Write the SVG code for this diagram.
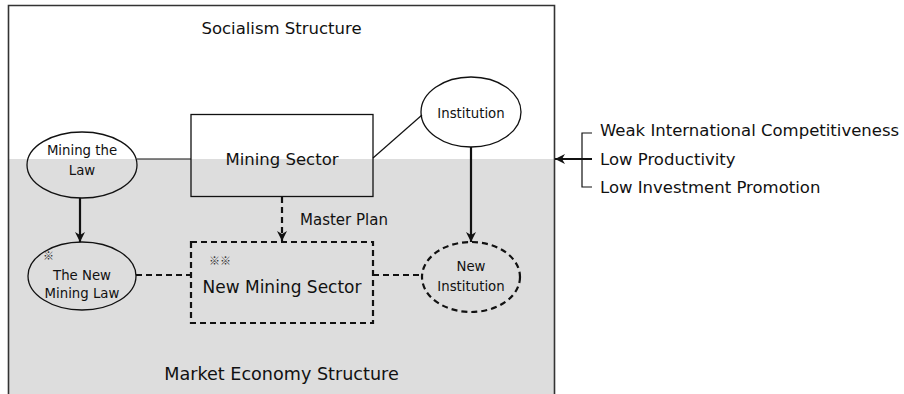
<svg xmlns="http://www.w3.org/2000/svg" width="904" height="394" viewBox="0 0 904 394">
  <style>
    text { font-family: "DejaVu Sans", "Noto Sans CJK JP", sans-serif; fill: #111; }
    .mid { text-anchor: middle; }
    .big { font-size: 16.5px; }
    .small { font-size: 13.3px; }
    .note { font-size: 11px; fill: #333; font-family: "Noto Sans CJK JP", sans-serif; }
    .side { font-size: 16.5px; }
    .shape { fill: none; stroke: #111; stroke-width: 1.3; }
    .dash { fill: none; stroke: #111; stroke-width: 2.2; stroke-dasharray: 6 4; }
    .thin { fill: none; stroke: #111; stroke-width: 1.2; }
    .arrow { fill: none; stroke: #111; stroke-width: 2.2; marker-end: url(#head); }
    .darrow { fill: none; stroke: #111; stroke-width: 2.2; stroke-dasharray: 6 4; marker-end: url(#head); }
  </style>
  <defs>
    <marker id="head" markerWidth="12" markerHeight="12" refX="10" refY="6" orient="auto" markerUnits="userSpaceOnUse">
      <path d="M0,1 L10,6 L0,11 L3,6 z" fill="#111"/>
    </marker>
  </defs>

  <!-- background and structure frame -->
  <rect x="0" y="0" width="904" height="394" fill="#fff"/>
  <rect x="9" y="159" width="545" height="235" fill="#dddddd"/>
  <path d="M8.5,394 V5.5 H554.5 V394" fill="none" stroke="#333" stroke-width="1.6"/>
  <text class="big mid" x="281.5" y="34">Socialism Structure</text>
  <text class="mid" x="281.5" y="380" style="font-size:17.6px">Market Economy Structure</text>

  <!-- connectors -->
  <g id="connectors">
    <line class="thin" x1="137" y1="159" x2="191" y2="159"/>
    <line class="thin" x1="373" y1="158" x2="422" y2="115"/>
    <line class="arrow" x1="80" y1="198" x2="80" y2="242"/>
    <line class="arrow" x1="471" y1="147" x2="471" y2="242"/>
    <line class="darrow" x1="282" y1="197" x2="282" y2="241"/>
    <line class="dash" x1="136" y1="275" x2="191" y2="275"/>
    <line class="dash" x1="373" y1="275" x2="422" y2="275"/>
    <text x="300" y="225" style="font-size:15px">Master Plan</text>
  </g>

  <g id="mining-law">
    <ellipse class="shape" cx="82" cy="165" rx="55" ry="33"/>
    <text class="small mid" x="82" y="155">Mining the</text>
    <text class="small mid" x="82" y="175">Law</text>
  </g>

  <g id="mining-sector">
    <rect class="shape" x="191" y="114.5" width="182" height="82"/>
    <text class="big mid" x="282" y="165">Mining Sector</text>
  </g>

  <g id="institution">
    <ellipse class="shape" cx="471" cy="112" rx="50" ry="35"/>
    <text class="small mid" x="471" y="118">Institution</text>
  </g>

  <g id="new-mining-law">
    <ellipse class="shape" cx="82" cy="276" rx="54" ry="34"/>
    <text class="note" x="43" y="260">※</text>
    <text class="small mid" x="82" y="280">The New</text>
    <text class="small mid" x="82" y="298">Mining Law</text>
  </g>

  <g id="new-mining-sector">
    <rect class="dash" x="191" y="242" width="182" height="81"/>
    <text class="note" x="209" y="265">※※</text>
    <text class="mid" x="282" y="293" style="font-size:17px">New Mining Sector</text>
  </g>

  <g id="new-institution">
    <ellipse class="dash" cx="471" cy="277" rx="49" ry="35"/>
    <text class="small mid" x="471" y="271">New</text>
    <text class="small mid" x="471" y="291">Institution</text>
  </g>

  <!-- external factors bracket -->
  <g id="factors">
    <path class="thin" d="M592,133 H582 V187 H592"/>
    <line class="arrow" x1="592" y1="159" x2="555" y2="159"/>
    <text class="side" x="600" y="136">Weak International Competitiveness</text>
    <text class="side" x="600" y="165">Low Productivity</text>
    <text class="side" x="600" y="193">Low Investment Promotion</text>
  </g>
</svg>
